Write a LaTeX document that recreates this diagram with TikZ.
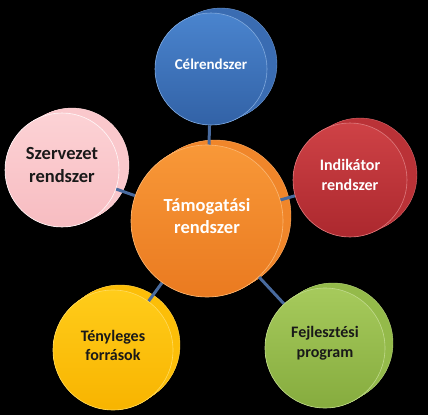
\documentclass[tikz,border=0pt]{standalone}
\usepackage{fontspec}
\setmainfont{Carlito}
\usetikzlibrary{backgrounds}

\definecolor{celtop}{RGB}{74,132,206}
\definecolor{celbot}{RGB}{50,98,166}
\definecolor{celside}{RGB}{58,108,178}
\definecolor{szetop}{RGB}{252,210,213}
\definecolor{szebot}{RGB}{247,188,193}
\definecolor{szeside}{RGB}{250,200,204}
\definecolor{indtop}{RGB}{206,66,70}
\definecolor{indbot}{RGB}{172,40,46}
\definecolor{indside}{RGB}{186,50,55}
\definecolor{tamtop}{RGB}{248,152,56}
\definecolor{tambot}{RGB}{234,122,32}
\definecolor{tamside}{RGB}{240,134,42}
\definecolor{tenytop}{RGB}{255,204,26}
\definecolor{tenybot}{RGB}{248,180,0}
\definecolor{tenyside}{RGB}{252,190,8}
\definecolor{fejtop}{RGB}{166,202,92}
\definecolor{fejbot}{RGB}{134,172,62}
\definecolor{fejside}{RGB}{148,186,74}
\definecolor{linkcol}{RGB}{72,106,158}

\begin{document}
\begin{tikzpicture}[x=1pt,y=-1pt,
	disc/.style={circle,inner sep=0pt,minimum size=#1,line width=0.6pt},
	lbl/.style={align=center,font=\fontsize{16}{20}\selectfont\bfseries,yshift=5pt},
	link/.style={draw=linkcol,line width=3pt}]
	\useasboundingbox (0,0) rectangle (428,415);

	% front faces
	\node[disc=112pt,top color=celtop,bottom color=celbot,draw=celtop!70!white,
		label={[lbl,text=white,font=\fontsize{15}{20}\selectfont\bfseries]center:Célrendszer}] (cel) at (211,69) {};
	\node[disc=114pt,top color=szetop,bottom color=szebot,draw=white!85!szetop,
		label={[lbl,text=black!90,font=\fontsize{18.5}{23}\selectfont\bfseries]center:Szervezet\\rendszer}] (sze) at (62,170) {};
	\node[disc=114pt,top color=indtop,bottom color=indbot,draw=indtop!70!white,
		label={[lbl,text=white]center:Indikátor\\rendszer}] (ind) at (350,180) {};
	\node[disc=152pt,top color=tamtop,bottom color=tambot,draw=tamtop!70!white,
		label={[lbl,text=white,font=\fontsize{18.5}{22}\selectfont\bfseries]center:Támogatási\\rendszer}] (tam) at (207,221) {};
	\node[disc=120pt,top color=tenytop,bottom color=tenybot,draw=tenytop!70!white,
		label={[lbl,text=black!90,font=\fontsize{16}{19}\selectfont\bfseries]center:Tényleges\\források}] (teny) at (113,350) {};
	\node[disc=120pt,top color=fejtop,bottom color=fejbot,draw=fejtop!70!white,
		label={[lbl,text=black!90]center:Fejlesztési\\program}] (fej) at (325,348) {};

	\begin{pgfonlayer}{background}
		\fill[black] (0,0) rectangle (428,415);

		% side of the discs
		\foreach \n/\r/\dx/\col in {cel/56/10/celside,sze/57/10/szeside,ind/57/10/indside,
			tam/76/8/tamside,teny/60/7/tenyside,fej/60/8/fejside}{
			\foreach \t in {0,0.04,...,1}
				\fill[\col] (\n.center) ++(\t*\dx,-\t*5) circle (\r);
			\draw[\col!75!white,line width=0.4pt] (\n.center) ++(\dx,-5) circle (\r);
		}

		\draw[link] (tam) -- (cel);
		\draw[link] (tam) -- (sze);
		\draw[link] (tam) -- (ind);
		\draw[link] (tam) -- (teny);
		\draw[link] (tam) -- (fej);
	\end{pgfonlayer}
\end{tikzpicture}
\end{document}
